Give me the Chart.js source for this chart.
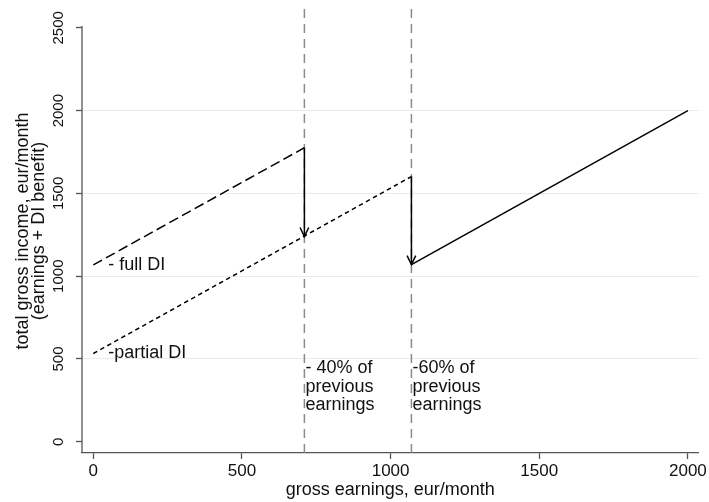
<!DOCTYPE html>
<html>
<head>
<meta charset="utf-8">
<script src="https://cdn.jsdelivr.net/npm/chart.js@4.4.1/dist/chart.umd.min.js"></script>
<style>
  html, body { margin: 0; padding: 0; background: #fff; }
</style>
</head>
<body>
<canvas id="incomeChart" width="709" height="502"></canvas>
<script>
const xTicks = [0, 500, 1000, 1500, 2000]
const yTicks = [0, 500, 1000, 1500, 2000, 2500]

// benefit schedule
const fullDIx = [0, 710]
const fullDIy = [1068, 1776]
const partialDIx = [0, 1070]
const partialDIy = [533, 1602]
const workX = [1070, 2000]
const workY = [1070, 2000]
const dropX = [710, 1070]
const dropFrom = [1776, 1602]
const dropTo = [1240, 1070]
const cutoffs = [710, 1070]

const lineLabels = ["- full DI", "-partial DI"]
const lineLabelY = [1068, 533]
const cutoffLabels = [["- 40% of", "previous", "earnings"], ["-60% of", "previous", "earnings"]]
const cutoffLabelY = 445

const xMin = -38, xMax = 2036
const yMin = -68, yMax = 2614, yAxisTop = 2512

const FONT = "'Liberation Sans', Arial, sans-serif"
const ink = "#111"
const axisGray = "#555"

const pts = (xs, ys) => xs.map((x, i) => ({ x: x, y: ys[i] }))

const datasets = [
  { label: "full DI", data: pts(fullDIx, fullDIy), borderDash: [10, 4.5] },
  { label: "partial DI", data: pts(partialDIx, partialDIy), borderDash: [4.5, 3.5] },
  { label: "working", data: pts(workX, workY) },
]
dropX.forEach((x, i) => {
  datasets.push({ label: "drop" + i, arrow: true, data: [{ x: x, y: dropFrom[i] }, { x: x, y: dropTo[i] }] })
})
cutoffs.forEach((x, i) => {
  datasets.push({ label: "cutoff" + i, data: [{ x: x, y: yMin }, { x: x, y: yMax }],
    borderColor: "#8a8a8a", borderDash: [9, 6], borderWidth: 1.5 })
})
datasets.forEach(d => {
  d.borderColor = d.borderColor || "#000"
  d.borderWidth = d.borderWidth || 1.5
  d.pointRadius = 0
  d.fill = false
  d.tension = 0
})

const extras = {
  id: "extras",
  afterDatasetsDraw(chart) {
    const c = chart.ctx
    const xs = chart.scales.x, ys = chart.scales.y
    const area = chart.chartArea
    c.save()
    // y axis line stops just above the top tick
    c.strokeStyle = axisGray
    c.lineWidth = 1.3
    c.beginPath()
    c.moveTo(area.left, area.bottom)
    c.lineTo(area.left, ys.getPixelForValue(yAxisTop))
    c.stroke()

    // arrow heads on the drops
    c.strokeStyle = "#000"
    c.lineWidth = 1.5
    chart.data.datasets.forEach((d, i) => {
      if (!d.arrow) return
      const p = chart.getDatasetMeta(i).data
      const tip = p[1], from = p[0]
      const ang = Math.atan2(tip.y - from.y, tip.x - from.x)
      const len = 10, spread = 0.45
      c.beginPath()
      c.moveTo(tip.x - len * Math.cos(ang - spread), tip.y - len * Math.sin(ang - spread))
      c.lineTo(tip.x, tip.y)
      c.lineTo(tip.x - len * Math.cos(ang + spread), tip.y - len * Math.sin(ang + spread))
      c.stroke()
    })

    // text labels
    c.fillStyle = ink
    c.font = "18px " + FONT
    c.textBaseline = "middle"
    c.textAlign = "left"
    lineLabels.forEach((t, i) => {
      c.fillText(t, xs.getPixelForValue(0) + 15, ys.getPixelForValue(lineLabelY[i]))
    })
    cutoffLabels.forEach((lines, i) => {
      const x0 = xs.getPixelForValue(cutoffs[i]) + 1
      const y0 = ys.getPixelForValue(cutoffLabelY)
      lines.forEach((t, j) => c.fillText(t, x0, y0 + j * 18.5))
    })
    c.restore()
  }
}

new Chart(document.getElementById("incomeChart"), {
  type: "line",
  data: { datasets: datasets },
  plugins: [extras],
  options: {
    responsive: false,
    animation: false,
    devicePixelRatio: 1,
    layout: { padding: { top: 6, right: 10, left: 0, bottom: 0 } },
    plugins: { legend: { display: false }, tooltip: { enabled: false } },
    scales: {
      x: {
        type: "linear",
        min: xMin,
        max: xMax,
        afterBuildTicks: s => { s.ticks = xTicks.map(v => ({ value: v })) },
        afterFit: s => { s.height = 49 },
        grid: { drawOnChartArea: false, tickLength: 6, tickColor: axisGray, tickWidth: 1.3 },
        border: { color: axisGray, width: 1.3 },
        ticks: { color: ink, font: { family: FONT, size: 17 }, padding: 2, maxRotation: 0, autoSkip: false,
          callback: v => String(v) },
        title: { display: true, text: "gross earnings, eur/month", color: ink,
          font: { family: FONT, size: 18 }, padding: { top: 0, bottom: 1 } }
      },
      y: {
        type: "linear",
        min: yMin,
        max: yMax,
        afterBuildTicks: s => { s.ticks = yTicks.map(v => ({ value: v })) },
        afterFit: s => { s.width = 82 },
        grid: {
          color: ctx => (ctx.tick && ctx.tick.value > 0 && ctx.tick.value < 2500) ? "#e4edf1" : "rgba(0,0,0,0)",
          tickColor: axisGray, tickLength: 6, tickWidth: 1.3
        },
        border: { display: false },
        ticks: { color: ink, font: { family: FONT, size: 15 }, padding: 0, minRotation: 90, maxRotation: 90,
          crossAlign: "center", autoSkip: false, callback: v => String(v) },
        title: { display: true, text: ["total gross income, eur/month", "(earnings + DI benefit)"], color: ink,
          font: { family: FONT, size: 18, lineHeight: 0.89 }, padding: { top: 15, bottom: 0 } }
      }
    }
  }
})
</script>
</body>
</html>
